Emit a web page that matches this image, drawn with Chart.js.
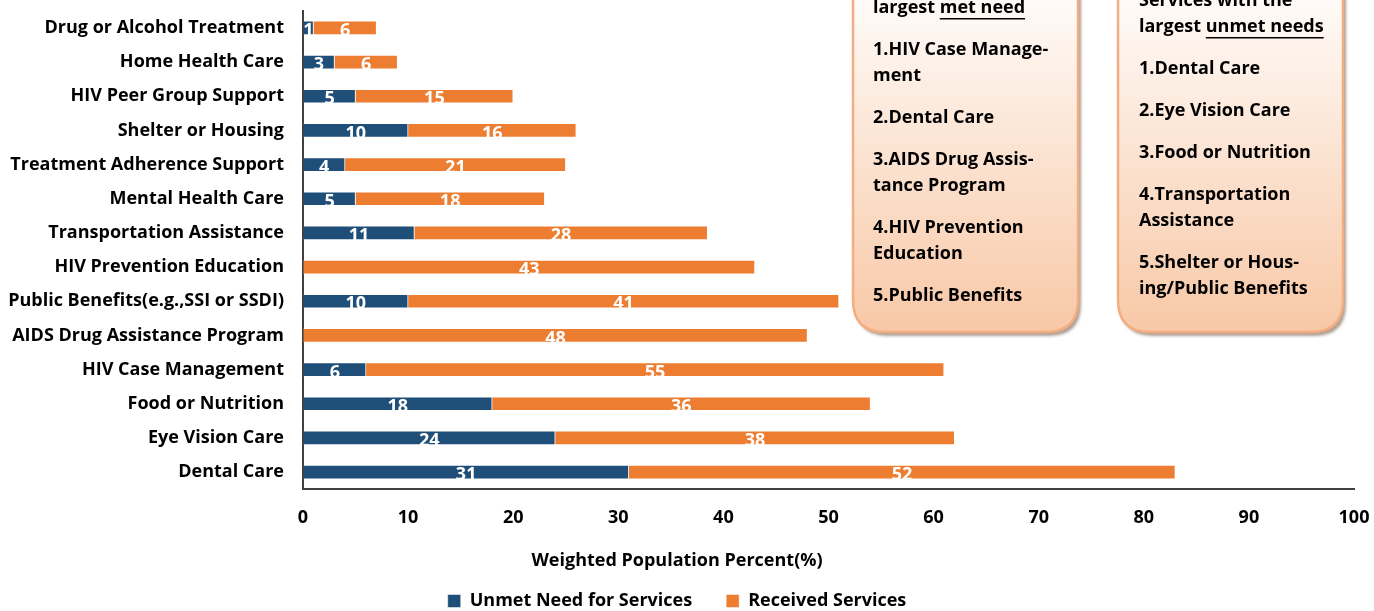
<!DOCTYPE html>
<html>
<head>
<meta charset="utf-8">
<script src="https://cdn.jsdelivr.net/npm/chart.js@4.4.0/dist/chart.umd.min.js"></script>
<style>
html,body{margin:0;padding:0;background:#fff;}
#wrap{width:1374px;height:611px;}
</style>
</head>
<body>
<div id="wrap"><canvas id="chart"></canvas></div>
<script>
// categories, top to bottom
var services = ['Drug or Alcohol Treatment', 'Home Health Care', 'HIV Peer Group Support',
	'Shelter or Housing', 'Treatment Adherence Support', 'Mental Health Care',
	'Transportation Assistance', 'HIV Prevention Education', 'Public Benefits(e.g.,SSI or SSDI)',
	'AIDS Drug Assistance Program', 'HIV Case Management', 'Food or Nutrition',
	'Eye Vision Care', 'Dental Care'];
var unmetNeed = [1, 3, 5, 10, 4, 5, 10.6, 0, 10, 0, 6, 18, 24, 31];
var received  = [6, 6, 15, 16, 21, 18, 27.9, 43, 41, 48, 55, 36, 38, 52];
var xTicks = [0, 10, 20, 30, 40, 50, 60, 70, 80, 90, 100];

// side boxes
var metHeader = ['Services with the', 'largest '];
var metHeaderU = 'met need';
var metItems = [['1.HIV Case Manage-', 'ment'], ['2.Dental Care'], ['3.AIDS Drug Assis-', 'tance Program'],
	['4.HIV Prevention', 'Education'], ['5.Public Benefits']];
var unmetHeader = ['Services with the', 'largest '];
var unmetHeaderU = 'unmet needs';
var unmetItems = [['1.Dental Care'], ['2.Eye Vision Care'], ['3.Food or Nutrition'],
	['4.Transportation', 'Assistance'], ['5.Shelter or Hous-', 'ing/Public Benefits']];

var FONT = '"Open Sans", Lato, sans-serif';
var FSIZE = 18;
var BLUE = '#1F4E79';
var ORANGE = '#ED7D31';

function roundRect(ctx, x, y, w, h, r) {
	ctx.beginPath();
	ctx.moveTo(x + r, y);
	ctx.lineTo(x + w - r, y);
	ctx.quadraticCurveTo(x + w, y, x + w, y + r);
	ctx.lineTo(x + w, y + h - r);
	ctx.quadraticCurveTo(x + w, y + h, x + w - r, y + h);
	ctx.lineTo(x + r, y + h);
	ctx.quadraticCurveTo(x, y + h, x, y + h - r);
	ctx.lineTo(x, y + r);
	ctx.quadraticCurveTo(x, y, x + r, y);
	ctx.closePath();
}

function drawBox(ctx, left, right, bottom, textX, headY, header, headerU, items) {
	ctx.save();
	var top = -60;
	var grad = ctx.createLinearGradient(0, -30, 0, bottom);
	grad.addColorStop(0, '#FFFFFF');
	grad.addColorStop(1, '#F8C8A6');
	roundRect(ctx, left, top, right - left, bottom - top, 32);
	ctx.shadowColor = 'rgba(110,80,60,0.55)';
	ctx.shadowOffsetX = 3;
	ctx.shadowOffsetY = 4;
	ctx.shadowBlur = 3;
	ctx.fillStyle = grad;
	ctx.fill();
	ctx.shadowColor = 'transparent';
	ctx.lineWidth = 2.5;
	ctx.strokeStyle = '#F2AE80';
	ctx.stroke();

	ctx.fillStyle = '#000';
	ctx.font = 'bold ' + FSIZE + 'px ' + FONT;
	ctx.textBaseline = 'middle';
	ctx.textAlign = 'left';
	var y = headY - 26 * (header.length - 1);
	for (var i = 0; i < header.length; i++) {
		ctx.fillText(header[i], textX, y);
		if (i == header.length - 1) {
			var w = ctx.measureText(header[i]).width;
			ctx.fillText(headerU, textX + w, y);
			var uw = ctx.measureText(headerU).width;
			ctx.fillRect(textX + w, y + 10, uw, 1.5);
		}
		y += 26;
	}
	y = headY;
	for (var j = 0; j < items.length; j++) {
		y += 42;
		for (var k = 0; k < items[j].length; k++) {
			if (k > 0) y += 26;
			ctx.fillText(items[j][k], textX, y);
		}
	}
	ctx.restore();
}

var extras = {
	id: 'extras',
	afterDatasetsDraw: function(chart) {
		var ctx = chart.ctx;
		ctx.save();
		ctx.font = 'bold ' + FSIZE + 'px ' + FONT;
		ctx.fillStyle = '#fff';
		ctx.textAlign = 'center';
		ctx.textBaseline = 'middle';
		chart.data.datasets.forEach(function(ds, di) {
			var meta = chart.getDatasetMeta(di);
			meta.data.forEach(function(bar, i) {
				var v = ds.data[i];
				if (!v) return;
				ctx.fillText(Math.round(v), (bar.x + bar.base) / 2, bar.y + 3);
			});
		});
		ctx.restore();
	},
	afterDraw: function(chart) {
		var ctx = chart.ctx;
		drawBox(ctx, 853, 1078, 332, 873, 8, metHeader, metHeaderU, metItems);
		drawBox(ctx, 1118, 1343, 332, 1139, 27, unmetHeader, unmetHeaderU, unmetItems);
	}
};

var ctx = document.getElementById('chart');
var myChart = new Chart(ctx, {
	type: 'bar',
	data: {
		labels: services,
		datasets: [{
			label: 'Unmet Need for Services',
			data: unmetNeed,
			backgroundColor: BLUE,
			borderColor: 'rgba(255,255,255,0.5)',
			borderWidth: 1,
			barThickness: 14
		}, {
			label: 'Received Services',
			data: received,
			backgroundColor: ORANGE,
			borderColor: 'rgba(255,255,255,0.5)',
			borderWidth: 1,
			barThickness: 14
		}]
	},
	options: {
		indexAxis: 'y',
		responsive: true,
		maintainAspectRatio: false,
		animation: false,
		layout: { padding: { top: 10.5, right: 20, left: 0, bottom: -9 } },
		plugins: {
			title: {
				display: true,
				position: 'bottom',
				weight: 500,
				text: 'Weighted Population Percent(%)',
				color: '#000',
				font: { family: FONT, size: FSIZE, weight: 'bold' },
				padding: { top: 20, bottom: -14 }
			},
			legend: {
				position: 'bottom',
				labels: {
					boxWidth: 13,
					boxHeight: 13,
					padding: 34,
					color: '#000',
					font: { family: FONT, size: FSIZE, weight: 'bold' }
				}
			},
			tooltip: { enabled: false }
		},
		scales: {
			x: {
				stacked: true,
				min: 0,
				max: 100,
				afterBuildTicks: function(scale) {
					scale.ticks = xTicks.map(function(v) { return { value: v }; });
				},
				afterFit: function(scale) { scale.height = 41.2; },
				grid: { display: true, drawOnChartArea: false, drawTicks: true, tickLength: 18, tickColor: 'rgba(0,0,0,0)' },
				border: { display: true, color: '#404040', width: 2 },
				ticks: {
					padding: 0,
					color: '#000',
					font: { family: FONT, size: FSIZE, weight: 'bold' }
				}
			},
			y: {
				stacked: true,
				afterFit: function(scale) { scale.width = 303; },
				grid: { display: true, drawOnChartArea: false, drawTicks: true, tickLength: 19, tickColor: 'rgba(0,0,0,0)' },
				border: { display: true, color: '#404040', width: 2 },
				ticks: {
					padding: 0,
					color: '#000',
					font: { family: FONT, size: FSIZE, weight: 'bold' }
				}
			}
		}
	},
	plugins: [extras]
});
</script>
</body>
</html>
